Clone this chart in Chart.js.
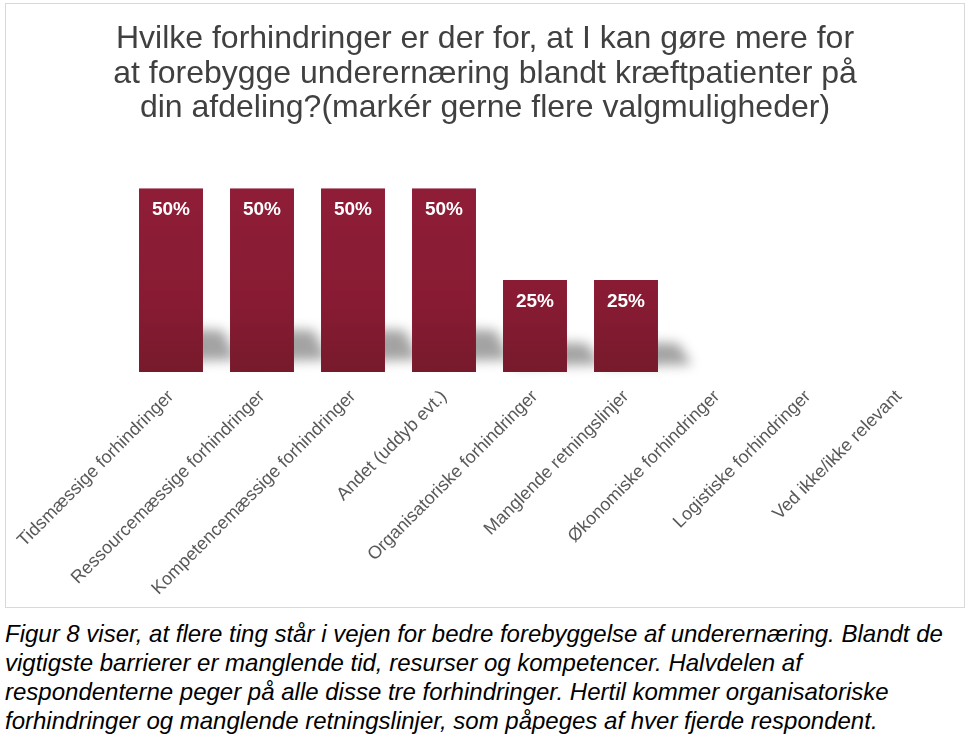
<!DOCTYPE html>
<html>
<head>
<meta charset="utf-8">
<script src="https://cdn.jsdelivr.net/npm/chart.js@4/dist/chart.umd.min.js"></script>
<style>
  html, body { margin: 0; padding: 0; background: #ffffff; }
  body { width: 973px; height: 751px; position: relative; overflow: hidden; }
  #box { position: absolute; left: 5px; top: 3px; width: 958px; height: 603px; border: 1px solid #d9d9d9; background: #fff; }
  #c { display: block; }
  #caption { position: absolute; left: 5px; top: 619px; width: 965px; font-family: "Liberation Sans Narrow", "Liberation Sans", Arial, sans-serif; font-style: italic; font-size: 24px; line-height: 29px; color: #000; white-space: nowrap; }
</style>
</head>
<body>
<div id="box"><canvas id="c" width="958" height="603"></canvas></div>
<div id="caption">Figur 8 viser, at flere ting står i vejen for bedre forebyggelse af underernæring. Blandt de<br>vigtigste barrierer er manglende tid, resurser og kompetencer. Halvdelen af<br>respondenterne peger på alle disse tre forhindringer. Hertil kommer organisatoriske<br>forhindringer og manglende retningslinjer, som påpeges af hver fjerde respondent.</div>
<script>
const titleLines = [
  "Hvilke forhindringer er der for, at I kan gøre mere for",
  "at forebygge underernæring blandt kræftpatienter på",
  "din afdeling?(markér gerne flere valgmuligheder)"
];
const categories = [
  "Tidsmæssige forhindringer",
  "Ressourcemæssige forhindringer",
  "Kompetencemæssige forhindringer",
  "Andet (uddyb evt.)",
  "Organisatoriske forhindringer",
  "Manglende retningslinjer",
  "Økonomiske forhindringer",
  "Logistiske forhindringer",
  "Ved ikke/ikke relevant"
];
const values = [50, 50, 50, 50, 25, 25, 0, 0, 0];
const valueLabels = ["50%", "50%", "50%", "50%", "25%", "25%", "", "", ""];

const barShadow = {
  id: 'barShadow',
  beforeDatasetsDraw(chart) {
    const ctx = chart.ctx;
    const meta = chart.getDatasetMeta(0);
    ctx.save();
    meta.data.forEach((bar, i) => {
      if (!values[i]) return;
      const p = bar.getProps(['x', 'y', 'base', 'width'], true);
      const left = p.x - p.width / 2, right = p.x + p.width / 2;
      const h = p.base - p.y;
      const top = p.base - (0.14 * h + 18);
      const bottom = p.base - (0.05 * h + 1);
      ctx.filter = 'blur(6px)';
      ctx.fillStyle = 'rgba(0,0,0,0.36)';
      ctx.beginPath();
      ctx.moveTo(left + 10, top);
      ctx.lineTo(right + 20, top + 2);
      ctx.lineTo(right + 34, bottom - 2);
      ctx.lineTo(left + 10, bottom);
      ctx.closePath();
      ctx.fill();
    });
    ctx.restore();
  }
};

const barLabels = {
  id: 'barLabels',
  afterDatasetsDraw(chart) {
    const ctx = chart.ctx;
    const meta = chart.getDatasetMeta(0);
    ctx.save();
    ctx.fillStyle = '#ffffff';
    ctx.font = 'bold 19px "Liberation Sans", Arial, sans-serif';
    ctx.textAlign = 'center';
    ctx.textBaseline = 'middle';
    meta.data.forEach((bar, i) => {
      if (!values[i]) return;
      const p = bar.getProps(['x', 'y'], true);
      ctx.fillText(valueLabels[i], p.x, p.y + 22);
    });
    ctx.restore();
  }
};

function barGradient(context) {
  const chart = context.chart;
  const area = chart.chartArea;
  if (!area) return '#861b32';
  const g = chart.ctx.createLinearGradient(0, area.top, 0, area.bottom);
  g.addColorStop(0, '#8f1d37');
  g.addColorStop(0.6, '#881b33');
  g.addColorStop(1, '#771a2c');
  return g;
}

new Chart(document.getElementById('c'), {
  type: 'bar',
  data: {
    labels: categories,
    datasets: [{
      data: values,
      backgroundColor: barGradient,
      borderWidth: 0,
      categoryPercentage: 1.0,
      barPercentage: 0.703
    }]
  },
  options: {
    responsive: false,
    animation: false,
    events: [],
    layout: { padding: 0 },
    scales: {
      y: { display: false, min: 0, max: 50 },
      x: {
        grid: { display: false },
        border: { display: false },
        ticks: {
          color: '#595959',
          font: { family: '"Liberation Sans", Arial, sans-serif', size: 18 },
          minRotation: 45,
          maxRotation: 45,
          autoSkip: false,
          padding: 6
        },
        afterFit(scale) {
          scale.paddingLeft = 119.5;
          scale.paddingRight = 19.5;
          scale.height = 235;
        }
      }
    },
    plugins: {
      legend: { display: false },
      tooltip: { enabled: false },
      title: {
        display: true,
        text: titleLines,
        color: '#404040',
        font: { family: '"Liberation Sans", Arial, sans-serif', size: 32, weight: 'normal', lineHeight: 1.08 },
        padding: { top: 18, bottom: 62.5 }
      }
    }
  },
  plugins: [barShadow, barLabels]
});
</script>
</body>
</html>
